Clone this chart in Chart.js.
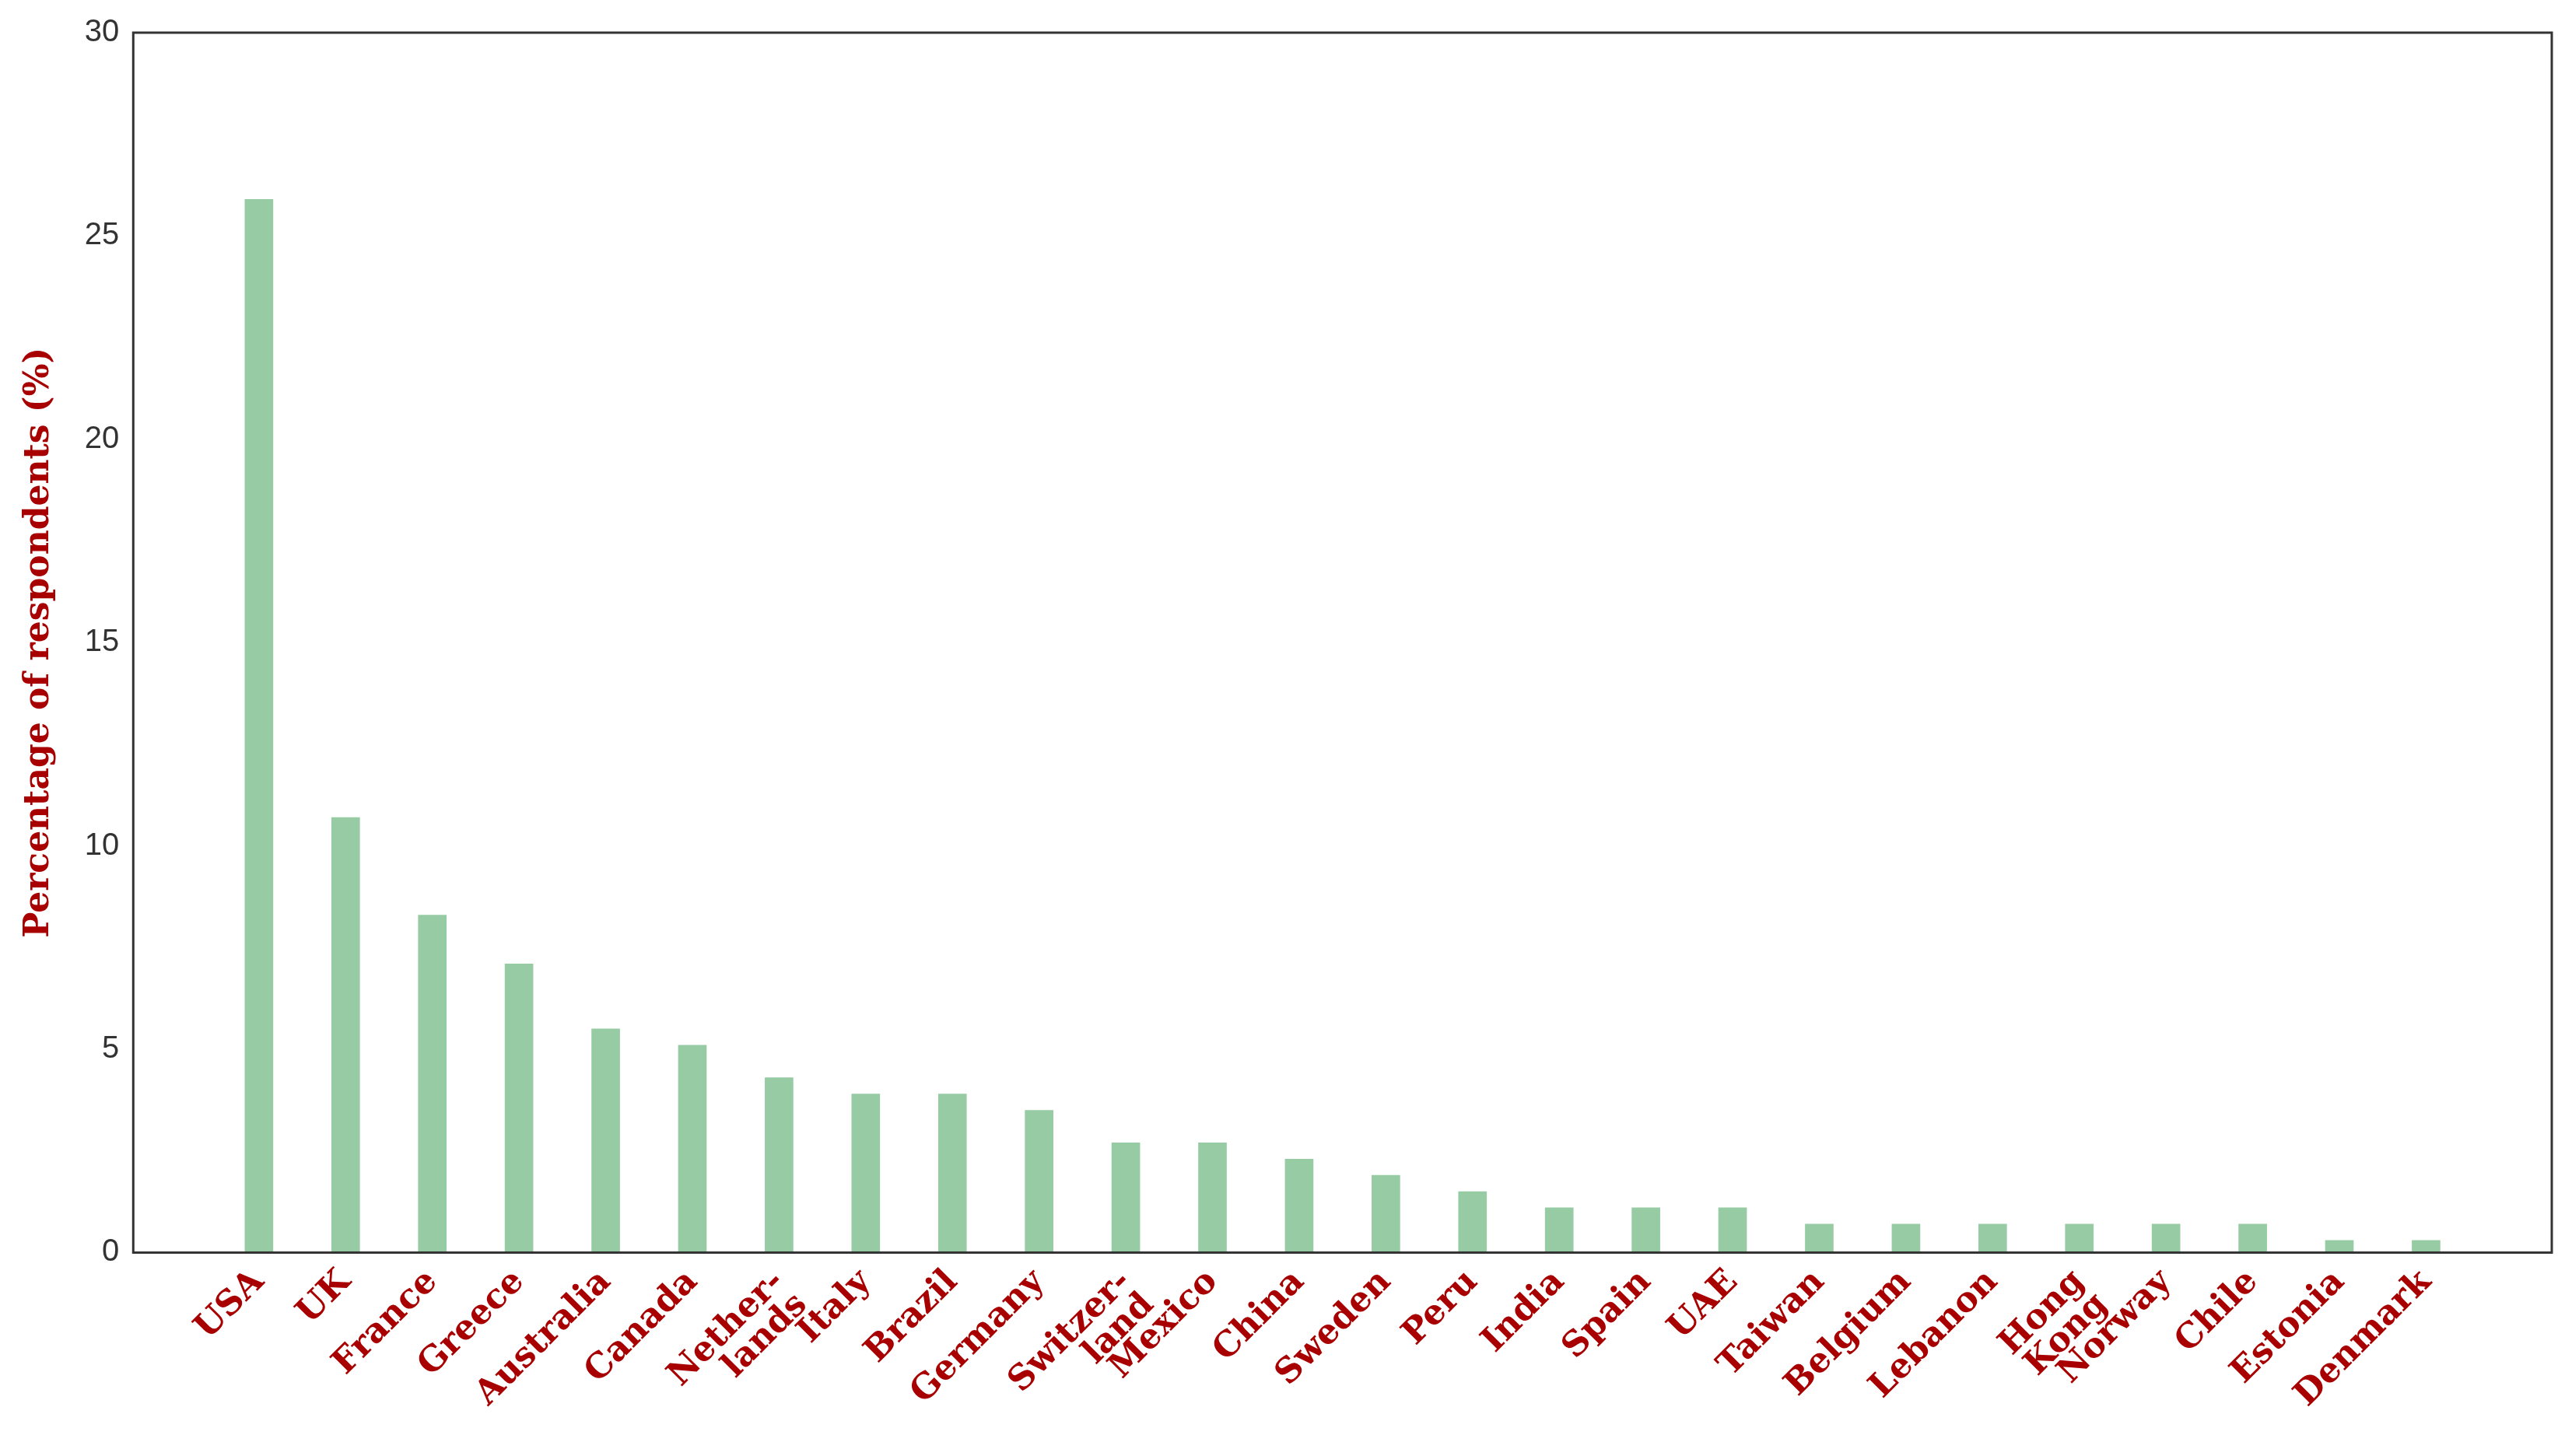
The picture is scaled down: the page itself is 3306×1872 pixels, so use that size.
<!DOCTYPE html>
<html><head><meta charset="utf-8">
<script src="https://cdn.jsdelivr.net/npm/chart.js@4"></script>
<style>html,body{margin:0;background:#fff}#w{width:3306px;height:1872px}</style>
</head><body><div id="w"><canvas id="c"></canvas></div>
<script>
const categories = ["USA","UK","France","Greece","Australia","Canada",["Nether-","lands"],"Italy","Brazil","Germany",["Switzer-","land"],"Mexico","China","Sweden","Peru","India","Spain","UAE","Taiwan","Belgium","Lebanon",["Hong","Kong"],"Norway","Chile","Estonia","Denmark"];
const values = [25.9,10.7,8.3,7.1,5.5,5.1,4.3,3.9,3.9,3.5,2.7,2.7,2.3,1.9,1.5,1.1,1.1,1.1,0.7,0.7,0.7,0.7,0.7,0.7,0.3,0.3];
const yTicks = [0,5,10,15,20,25,30];
const red = '#a80000';
const box = {id:'box',afterDraw(c){const a=c.chartArea,x=c.ctx;x.save();x.strokeStyle='#333';x.lineWidth=3;x.strokeRect(a.left,a.top,a.right-a.left,a.bottom-a.top);x.restore();}};
new Chart(document.getElementById('c'),{
type:'bar',
data:{datasets:[{data:values.map((v,i)=>({x:i,y:v})),backgroundColor:'#96cba3',barThickness:36}]},
options:{responsive:true,maintainAspectRatio:false,animation:false,
layout:{padding:{top:38,right:26,left:20,bottom:10}},
plugins:{legend:{display:false},tooltip:{enabled:false}},
scales:{
x:{type:'linear',offset:false,min:-1.45,max:26.45,grid:{display:false,drawTicks:false},border:{display:false},
afterBuildTicks(s){s.ticks=categories.map((_,i)=>({value:i}));},
ticks:{autoSkip:false,minRotation:45,maxRotation:45,padding:16,color:red,font:{family:'DejaVu Serif',weight:'bold',size:44,lineHeight:0.95},callback:(v)=>categories[v]}},
y:{min:0,max:30,grid:{display:false,drawTicks:false},border:{display:false},
afterBuildTicks(s){s.ticks=yTicks.map(v=>({value:v}));},
ticks:{padding:18,color:'#333',font:{family:'Liberation Sans',size:40}},
title:{display:true,text:'Percentage of respondents (%)',color:red,font:{family:'DejaVu Serif',weight:'bold',size:44},padding:{bottom:14}}}
}},
plugins:[box]});
</script></body></html>
